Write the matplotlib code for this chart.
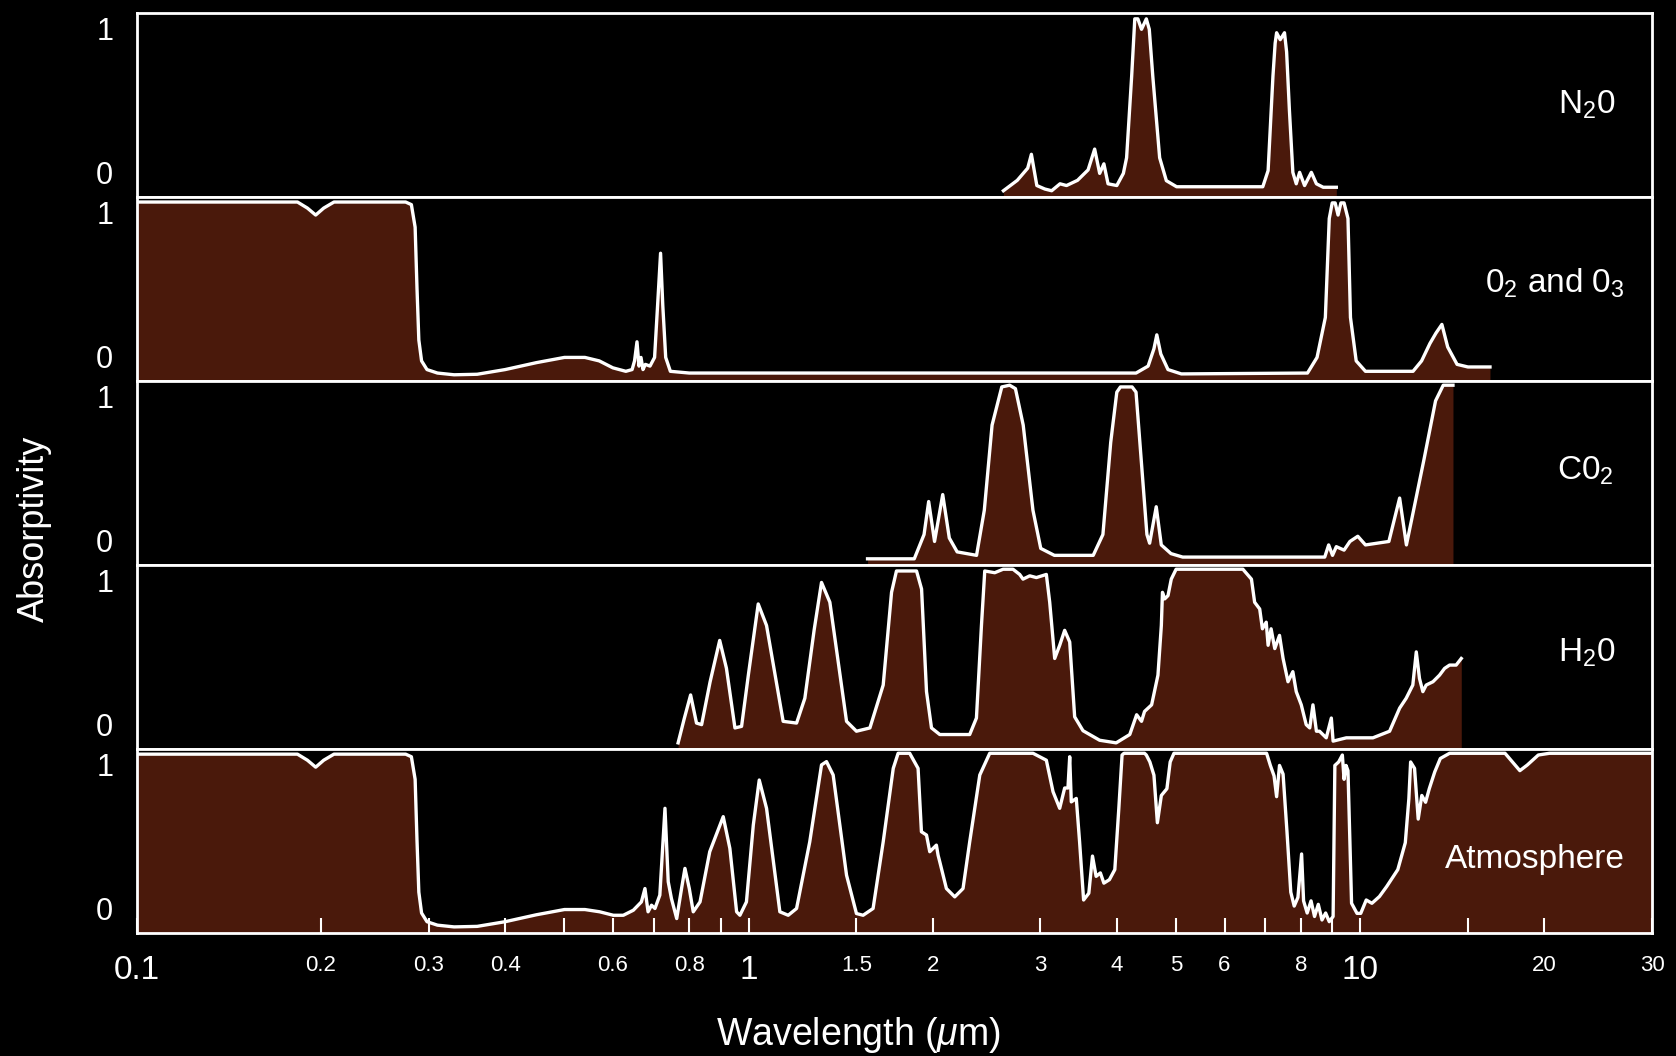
import matplotlib
matplotlib.use("Agg")
import matplotlib.pyplot as plt
from matplotlib.ticker import NullLocator

plt.rcParams['font.family'] = ['Liberation Sans', 'DejaVu Sans']
plt.rcParams['mathtext.fontset'] = 'custom'
plt.rcParams['mathtext.rm'] = 'Liberation Sans'
plt.rcParams['mathtext.it'] = 'Liberation Sans:italic'
plt.rcParams['mathtext.default'] = 'regular'

# Absorption spectra: wavelength (um) and absorptivity (0-1)
n2o_wl = [2.61, 2.75, 2.86, 2.90, 2.96, 3.05, 3.13, 3.23, 3.31, 3.45,
          3.59, 3.68, 3.75, 3.81, 3.87, 4.00, 4.10, 4.15, 4.23, 4.28,
          4.33, 4.39, 4.43, 4.47, 4.52, 4.58, 4.70, 4.82, 5.01, 6.93,
          7.07, 7.20, 7.26, 7.30, 7.40, 7.52, 7.58, 7.66, 7.76, 7.86,
          7.96, 8.11, 8.32, 8.48, 8.70, 9.14]
n2o_abs = [0.0, 0.06, 0.13, 0.21, 0.03, 0.01, 0.0, 0.04, 0.03, 0.06,
           0.12, 0.24, 0.10, 0.155, 0.04, 0.03, 0.10, 0.19, 0.66, 0.99,
           0.99, 0.93, 0.96, 0.99, 0.93, 0.66, 0.19, 0.058, 0.023, 0.023,
           0.116, 0.66, 0.85, 0.91, 0.87, 0.91, 0.80, 0.465, 0.106, 0.04,
           0.106, 0.03, 0.106, 0.04, 0.02, 0.02]

o2_wl = [0.100, 0.183, 0.190, 0.196, 0.202, 0.210, 0.275, 0.281, 0.285, 0.287,
         0.289, 0.292, 0.298, 0.310, 0.330, 0.360, 0.400, 0.450, 0.500, 0.540,
         0.570, 0.600, 0.630, 0.645, 0.651, 0.657, 0.662, 0.667, 0.672, 0.678,
         0.690, 0.702, 0.710, 0.718, 0.724, 0.732, 0.745, 0.800, 1.00, 2.00,
         4.30, 4.50, 4.60, 4.65, 4.72, 4.85, 5.10, 8.20, 8.50, 8.77,
         8.90, 9.00, 9.10, 9.20, 9.30, 9.41, 9.55, 9.64, 9.85, 10.2,
         12.2, 12.6, 13.0, 13.3, 13.6, 13.9, 14.4, 15.0, 16.3]
o2_abs = [0.995, 0.995, 0.96, 0.92, 0.96, 0.995, 0.995, 0.98, 0.85, 0.5,
          0.2, 0.08, 0.03, 0.01, 0.0, 0.003, 0.03, 0.07, 0.10, 0.10,
          0.08, 0.04, 0.02, 0.03, 0.08, 0.19, 0.05, 0.10, 0.03, 0.06,
          0.05, 0.10, 0.40, 0.70, 0.40, 0.10, 0.02, 0.01, 0.01, 0.01,
          0.01, 0.05, 0.15, 0.23, 0.12, 0.03, 0.005, 0.01, 0.10, 0.33,
          0.90, 0.99, 0.99, 0.92, 0.99, 0.99, 0.90, 0.33, 0.08, 0.02,
          0.02, 0.08, 0.18, 0.24, 0.29, 0.16, 0.06, 0.045, 0.045]

co2_wl = [1.565, 1.866, 1.936, 1.970, 2.014, 2.077, 2.129, 2.193, 2.359, 2.429,
          2.501, 2.594, 2.672, 2.731, 2.812, 2.917, 3.004, 3.162, 3.660, 3.796,
          3.909, 4.000, 4.055, 4.237, 4.300, 4.363, 4.480, 4.526, 4.640, 4.729,
          4.905, 5.126, 8.75, 8.88, 9.01, 9.14, 9.41, 9.62, 9.91, 10.2,
          11.14, 11.6, 11.9, 12.16, 12.71, 13.28, 13.67, 14.18]
co2_abs = [0.0, 0.0, 0.14, 0.33, 0.10, 0.37, 0.12, 0.04, 0.02, 0.28,
           0.77, 0.99, 1.0, 0.98, 0.77, 0.28, 0.06, 0.02, 0.02, 0.14,
           0.67, 0.96, 0.99, 0.99, 0.96, 0.67, 0.14, 0.09, 0.30, 0.08,
           0.03, 0.01, 0.01, 0.08, 0.02, 0.07, 0.05, 0.10, 0.13, 0.08,
           0.10, 0.35, 0.08, 0.24, 0.57, 0.91, 1.0, 1.0]

h2o_wl = [0.767, 0.785, 0.804, 0.822, 0.838, 0.865, 0.897, 0.920, 0.950, 0.974,
          1.000, 1.037, 1.070, 1.139, 1.198, 1.236, 1.280, 1.316, 1.358, 1.446,
          1.501, 1.579, 1.660, 1.713, 1.745, 1.882, 1.918, 1.954, 1.991, 2.054,
          2.299, 2.358, 2.403, 2.433, 2.526, 2.607, 2.706, 2.775, 2.810, 2.882,
          2.955, 3.068, 3.107, 3.166, 3.226, 3.287, 3.350, 3.413, 3.522, 3.75,
          3.99, 4.20, 4.31, 4.39, 4.44, 4.56, 4.67, 4.73, 4.75, 4.79,
          4.85, 4.91, 5.00, 6.43, 6.64, 6.72, 6.85, 6.92, 7.02, 7.07,
          7.15, 7.25, 7.38, 7.48, 7.62, 7.76, 7.86, 8.01, 8.16, 8.27,
          8.37, 8.48, 8.58, 8.80, 8.97, 9.03, 9.49, 10.49, 11.17, 11.60,
          11.89, 12.19, 12.35, 12.50, 12.66, 12.82, 13.15, 13.48, 13.74, 14.0,
          14.35, 14.63]
h2o_abs = [0.0, 0.14, 0.276, 0.114, 0.105, 0.35, 0.59, 0.43, 0.086, 0.095,
           0.40, 0.80, 0.676, 0.124, 0.114, 0.257, 0.65, 0.924, 0.81, 0.124,
           0.067, 0.086, 0.333, 0.867, 0.99, 0.99, 0.886, 0.295, 0.086, 0.048,
           0.048, 0.143, 0.676, 0.99, 0.98, 1.0, 1.0, 0.97, 0.943, 0.962,
           0.952, 0.97, 0.81, 0.486, 0.562, 0.648, 0.581, 0.15, 0.07, 0.015,
           0.0, 0.048, 0.162, 0.124, 0.181, 0.219, 0.39, 0.676, 0.867, 0.829,
           0.848, 0.943, 1.0, 1.0, 0.943, 0.81, 0.771, 0.657, 0.695, 0.562,
           0.657, 0.543, 0.619, 0.486, 0.352, 0.41, 0.295, 0.219, 0.105, 0.086,
           0.219, 0.067, 0.067, 0.029, 0.143, 0.01, 0.029, 0.029, 0.067, 0.2,
           0.257, 0.333, 0.524, 0.371, 0.295, 0.333, 0.352, 0.39, 0.429, 0.448,
           0.448, 0.486]

atm_wl = [0.100, 0.183, 0.190, 0.196, 0.202, 0.210, 0.275, 0.281, 0.285, 0.287,
          0.289, 0.292, 0.298, 0.310, 0.330, 0.360, 0.400, 0.450, 0.500, 0.540,
          0.571, 0.601, 0.624, 0.648, 0.668, 0.677, 0.685, 0.694, 0.703, 0.716,
          0.730, 0.739, 0.748, 0.763, 0.777, 0.787, 0.800, 0.812, 0.833, 0.864,
          0.909, 0.932, 0.956, 0.968, 0.992, 1.018, 1.041, 1.070, 1.125, 1.161,
          1.198, 1.259, 1.316, 1.341, 1.375, 1.446, 1.501, 1.539, 1.598, 1.660,
          1.724, 1.756, 1.834, 1.893, 1.917, 1.954, 1.978, 2.003, 2.028, 2.041,
          2.054, 2.106, 2.173, 2.242, 2.299, 2.388, 2.479, 2.918, 2.992, 3.068,
          3.146, 3.226, 3.287, 3.328, 3.350, 3.370, 3.434, 3.477, 3.53, 3.60,
          3.65, 3.70, 3.76, 3.81, 3.89, 3.97, 4.03, 4.08, 4.11, 4.44,
          4.47, 4.53, 4.60, 4.66, 4.73, 4.83, 4.89, 4.96, 7.03, 7.13,
          7.23, 7.30, 7.38, 7.48, 7.59, 7.70, 7.80, 7.91, 8.02, 8.08,
          8.19, 8.31, 8.42, 8.54, 8.66, 8.78, 8.90, 9.03, 9.09, 9.22,
          9.35, 9.41, 9.48, 9.55, 9.68, 9.88, 10.02, 10.23, 10.45, 10.75,
          11.05, 11.52, 11.85, 12.01, 12.09, 12.27, 12.35, 12.44, 12.61, 12.79,
          12.97, 13.24, 13.52, 14.0, 17.25, 17.74, 18.24, 18.75, 19.55, 20.39,
          30.0]
atm_abs = [0.995, 0.995, 0.96, 0.92, 0.96, 0.995, 0.995, 0.98, 0.85, 0.5,
           0.2, 0.08, 0.03, 0.01, 0.0, 0.003, 0.03, 0.07, 0.10, 0.10,
           0.087, 0.067, 0.067, 0.096, 0.144, 0.221, 0.087, 0.125, 0.106, 0.183,
           0.683, 0.26, 0.163, 0.048, 0.221, 0.337, 0.221, 0.087, 0.144, 0.433,
           0.635, 0.452, 0.087, 0.067, 0.144, 0.587, 0.846, 0.683, 0.087, 0.067,
           0.106, 0.49, 0.933, 0.952, 0.875, 0.298, 0.077, 0.067, 0.106, 0.49,
           0.913, 1.0, 1.0, 0.913, 0.548, 0.529, 0.433, 0.452, 0.471, 0.413,
           0.375, 0.221, 0.173, 0.221, 0.49, 0.875, 1.0, 1.0, 0.98, 0.96,
           0.779, 0.683, 0.8, 0.8, 0.98, 0.72, 0.74, 0.49, 0.155, 0.194,
           0.408, 0.291, 0.311, 0.252, 0.272, 0.33, 0.68, 0.99, 1.0, 1.0,
           0.99, 0.95, 0.874, 0.6, 0.757, 0.796, 0.95, 1.0, 1.0, 0.93,
           0.87, 0.75, 0.93, 0.88, 0.55, 0.2, 0.12, 0.17, 0.42, 0.15,
           0.08, 0.15, 0.06, 0.13, 0.04, 0.08, 0.03, 0.06, 0.93, 0.95,
           0.99, 0.85, 0.93, 0.9, 0.136, 0.078, 0.078, 0.155, 0.136, 0.175,
           0.233, 0.33, 0.485, 0.738, 0.95, 0.913, 0.777, 0.621, 0.757, 0.718,
           0.796, 0.893, 0.97, 1.0, 1.0, 0.95, 0.9, 0.932, 0.99, 1.0,
           1.0]

gas_names = ["N$_2$0", "0$_2$ and 0$_3$", "C0$_2$", "H$_2$0", "Atmosphere"]
spectra = [(n2o_wl, n2o_abs), (o2_wl, o2_abs), (co2_wl, co2_abs),
           (h2o_wl, h2o_abs), (atm_wl, atm_abs)]

tick_pos = [0.1, 0.2, 0.3, 0.4, 0.5, 0.6, 0.7, 0.8, 0.9, 1, 1.5, 2,
            3, 4, 5, 6, 7, 8, 9, 10, 15, 20, 30]
tick_text = ['0.1', '0.2', '0.3', '0.4', '', '0.6', '', '0.8', '', '1', '1.5', '2',
             '3', '4', '5', '6', '', '8', '', '10', '', '20', '30']
big_ticks = ['0.1', '1', '10']

fill_color = '#4a190b'
name_x = [0.976, 0.982, 0.975, 0.976, 0.982]
name_y = [0.50, 0.53, 0.51, 0.52, 0.40]

fig = plt.figure(figsize=(16.76, 10.56), dpi=100, facecolor='black')

left, right, top, bottom = 0.0817, 0.9857, 0.9879, 0.1165
h = (top - bottom) / 5

for i, (wl, ab) in enumerate(spectra):
    ax = fig.add_axes([left, top - (i + 1) * h, right - left, h], facecolor='black')
    ax.fill_between(wl, ab, -0.2, color=fill_color, lw=0)
    ax.plot(wl, ab, color='white', lw=2.4, solid_joinstyle='round')
    ax.set_xscale('log')
    ax.set_xlim(0.1, 30)
    ax.set_ylim(-0.035, 1.025)
    for s in ax.spines.values():
        s.set_color('white')
        s.set_linewidth(2)

    # 0 / 1 markers on the left
    ax.set_yticks([0, 1])
    ax.set_yticklabels(['0', '1'])
    ax.tick_params(axis='y', length=0, pad=17, labelsize=22, labelcolor='white')
    ylab = ax.get_yticklabels()
    ylab[0].set_va('bottom')
    ylab[1].set_va('top')

    ax.text(name_x[i], name_y[i], gas_names[i], transform=ax.transAxes,
            ha='right', va='center', color='white', fontsize=24)

    ax.xaxis.set_minor_locator(NullLocator())
    if i < 4:
        ax.set_xticks([])
    else:
        ax.set_xticks(tick_pos)
        ax.set_xticklabels(tick_text)
        ax.xaxis.set_minor_locator(NullLocator())
        ax.tick_params(axis='x', direction='in', length=11, width=1.5,
                       color='white', labelcolor='white', labelsize=16, pad=16)
        for lab in ax.get_xticklabels():
            if lab.get_text() in big_ticks:
                lab.set_fontsize(24)

fig.text(0.0203, 0.499, 'Absorptivity', rotation=90, ha='center', va='center',
         color='white', fontsize=26)
fig.text(0.512, 0.020, 'Wavelength ($\\mathit{\\mu}$m)', ha='center', va='center',
         color='white', fontsize=27)

fig.savefig('out.png', dpi=100, facecolor='black')
